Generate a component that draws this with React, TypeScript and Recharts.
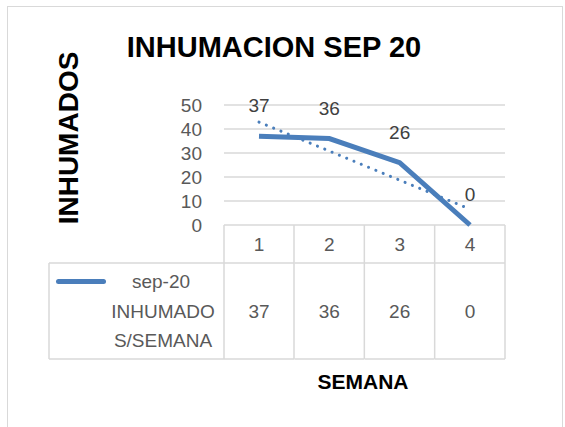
import { LineChart, Line, XAxis, YAxis, CartesianGrid, LabelList, Customized } from 'recharts';

const semanas = ['1', '2', '3', '4'];
const inhumados = [37, 36, 26, 0];
// linear trendline as it appears on the picture
const tendencia = [42.9, 30.8, 18.7, 6.6];
const yTicks = [0, 10, 20, 30, 40, 50];

const data = semanas.map((s, i) => ({ semana: s, inhumados: inhumados[i], tendencia: tendencia[i] }));

const FONT = '"Liberation Sans", Arial, sans-serif';
const BLUE = '#4a7ebb';
const GRID = '#d9d9d9';
const TXT = '#595959';
const HALF = 35; // half a table column

// x axis ticks draw the data table: category row + value row
const TableTick = (props: any) => {
  const { x, y, payload, index } = props;
  const half = HALF;
  const rowH = 38;
  const valH = 96;
  return (
    <g>
      <line x1={x + half} y1={y} x2={x + half} y2={y + rowH + valH} stroke={GRID} strokeWidth={1.5} />
      {index === 0 && (
        <>
          <line x1={x - half} y1={y} x2={x - half} y2={y + rowH + valH} stroke={GRID} strokeWidth={1.5} />
          <line x1={x - half - 175} y1={y + rowH} x2={x - half} y2={y + rowH} stroke={GRID} strokeWidth={1.5} />
          <line x1={x - half - 175} y1={y + rowH + valH} x2={x - half} y2={y + rowH + valH} stroke={GRID} strokeWidth={1.5} />
          <line x1={x - half - 175} y1={y + rowH} x2={x - half - 175} y2={y + rowH + valH} stroke={GRID} strokeWidth={1.5} />
        </>
      )}
      <line x1={x - half} y1={y + rowH} x2={x + half} y2={y + rowH} stroke={GRID} strokeWidth={1.5} />
      <line x1={x - half} y1={y + rowH + valH} x2={x + half} y2={y + rowH + valH} stroke={GRID} strokeWidth={1.5} />
      <text x={x} y={y + 19} textAnchor="middle" dominantBaseline="central" fill={TXT} fontSize={19} fontFamily={FONT}>
        {payload.value}
      </text>
      <text x={x} y={y + 86} textAnchor="middle" dominantBaseline="central" fill={TXT} fontSize={19} fontFamily={FONT}>
        {inhumados[index]}
      </text>
    </g>
  );
};

const LegendBox = () => (
  <div style={{ position: 'absolute', left: 49, top: 263, width: 175, height: 96, fontFamily: FONT, fontSize: 19, color: TXT }}>
    <div style={{ position: 'absolute', left: 7, top: 16, width: 50, height: 5, borderRadius: 3, background: BLUE }} />
    <div style={{ position: 'absolute', left: 62, top: 4, width: 100, textAlign: 'center', lineHeight: '29px' }}>sep-20</div>
    <div style={{ position: 'absolute', left: 52, top: 34, width: 124, textAlign: 'center', lineHeight: '29px' }}>
      INHUMADO<br />S/SEMANA
    </div>
  </div>
);

const Titles = () => (
  <g fontFamily={FONT} fontWeight="bold" fill="#000">
    <text x={274} y={57} textAnchor="middle" fontSize={29}>INHUMACION SEP 20</text>
    <text x={78} y={138} textAnchor="middle" fontSize={28} transform="rotate(-90 78 138)">INHUMADOS</text>
    <text x={363} y={389} textAnchor="middle" fontSize={21}>SEMANA</text>
  </g>
);

export default function App() {
  return (
    <div style={{ position: 'absolute', left: 0, top: 0, width: 565, height: 427, background: '#fff' }}>
      <div style={{ position: 'absolute', left: 7, top: 6, width: 556, height: 430, border: '1.5px solid #d9d9d9', boxSizing: 'border-box' }} />
      <LineChart width={565} height={427} data={data} margin={{ top: 105, right: 60, bottom: 62, left: 164 }}>
        <CartesianGrid vertical={false} stroke={GRID} strokeWidth={1.5} />
        <XAxis
          dataKey="semana"
          axisLine={false}
          tickLine={false}
          tickSize={0}
          tickMargin={0}
          tick={<TableTick />}
          height={140}
          interval={0}
          padding={{ left: HALF, right: HALF }}
        />
        <YAxis
          width={60}
          domain={[0, 50]}
          ticks={yTicks}
          interval={0}
          axisLine={false}
          tickLine={false}
          tickSize={0}
          tickMargin={22}
          tick={{ fill: TXT, fontSize: 19, fontFamily: FONT }}
        />
        <Line
          dataKey="tendencia"
          stroke={BLUE}
          strokeWidth={3}
          strokeDasharray="0.1 7.8"
          strokeLinecap="round"
          dot={false}
          isAnimationActive={false}
        />
        <Line
          dataKey="inhumados"
          stroke={BLUE}
          strokeWidth={5}
          dot={false}
          isAnimationActive={false}
        >
          <LabelList dataKey="inhumados" position="top" offset={24} fill="#404040" fontSize={19} fontFamily={FONT} />
        </Line>
        <Customized component={<Titles />} />
      </LineChart>
      <LegendBox />
    </div>
  );
}
